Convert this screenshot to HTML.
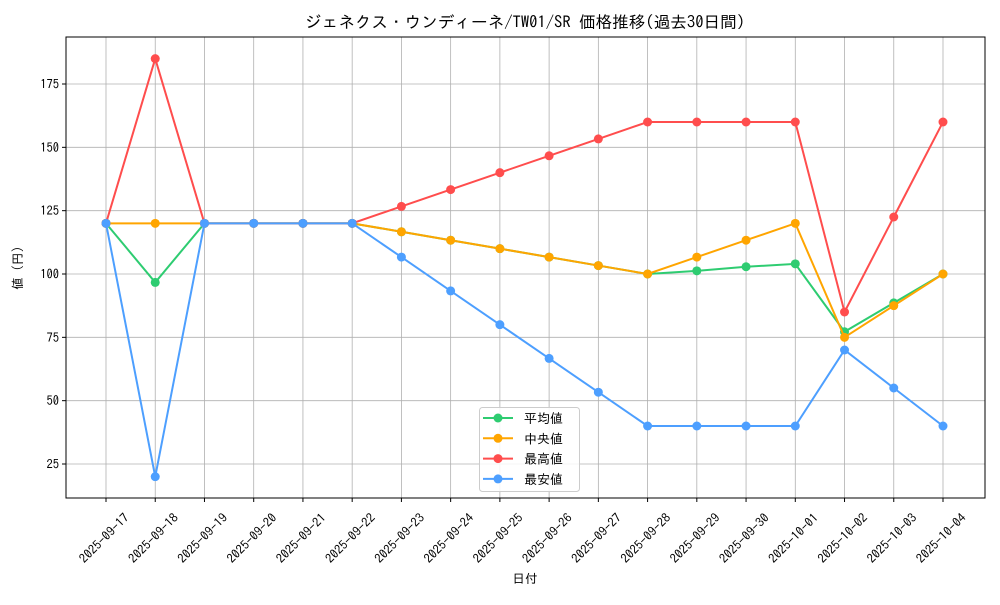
<!DOCTYPE html>
<html><head><meta charset="utf-8"><style>
body{margin:0;background:#fff}
svg text{font-family:"IPAGothic","Noto Sans CJK JP",sans-serif;fill:#000}
</style></head><body>
<svg id="c" width="1000" height="600" xmlns="http://www.w3.org/2000/svg"></svg>
<script>
const s=document.getElementById('c');
const L=66,R=985,T=37,B=498;
const X=i=>106+i*49.235, Y=v=>464-(v-25)*380/150;
let h='<rect width="1000" height="600" fill="#fff"/>';
const dates=['2025-09-17','2025-09-18','2025-09-19','2025-09-20','2025-09-21','2025-09-22','2025-09-23','2025-09-24','2025-09-25','2025-09-26','2025-09-27','2025-09-28','2025-09-29','2025-09-30','2025-10-01','2025-10-02','2025-10-03','2025-10-04'];
dates.forEach((d,i)=>{const x=X(i);h+=`<line x1="${x}" y1="${T}" x2="${x}" y2="${B}" stroke="#b0b0b0" stroke-width="0.8"/><line x1="${x}" y1="${B}" x2="${x}" y2="${B+4}" stroke="#000"/><text transform="translate(${x-2},538) rotate(-45)" text-anchor="middle" dominant-baseline="central" font-size="12.5" textLength="64" lengthAdjust="spacingAndGlyphs">${d}</text>`;});
[25,50,75,100,125,150,175].forEach(v=>{const y=Y(v);h+=`<line x1="${L}" y1="${y}" x2="${R}" y2="${y}" stroke="#b0b0b0" stroke-width="0.8"/><line x1="${L-4}" y1="${y}" x2="${L}" y2="${y}" stroke="#000"/><text x="${L-7}" y="${y+4.5}" text-anchor="end" font-size="12.5">${v}</text>`;});
const S=[
['#2ecc71',[120,96.67,120,120,120,120,116.67,113.33,110,106.67,103.33,100,101.25,102.86,104,77.2,88.6,100]],
['#ffa500',[120,120,120,120,120,120,116.67,113.33,110,106.67,103.33,100,106.67,113.33,120,75,87.5,100]],
['#ff4d4d',[120,185,120,120,120,120,126.67,133.33,140,146.67,153.33,160,160,160,160,85,122.5,160]],
['#4d9fff',[120,20,120,120,120,120,106.67,93.33,80,66.67,53.33,40,40,40,40,70,55,40]]];
S.forEach(([c,d])=>{h+=`<polyline fill="none" stroke="${c}" stroke-width="2" points="${d.map((v,i)=>X(i)+','+Y(v)).join(' ')}"/>`;d.forEach((v,i)=>h+=`<circle cx="${X(i)}" cy="${Y(v)}" r="4.5" fill="${c}"/>`);});
h+=`<rect x="${L}" y="${T}" width="${R-L}" height="${B-T}" fill="none" stroke="#000" stroke-width="1"/>`;
h+=`<rect x="479.5" y="407.5" width="100" height="84" rx="3" fill="#fff" fill-opacity="0.85" stroke="#ccc"/>`;
['平均値','中央値','最高値','最安値'].forEach((t,i)=>{const y=418+i*20.3,c=S[i][0];h+=`<line x1="483" y1="${y}" x2="513" y2="${y}" stroke="${c}" stroke-width="2"/><circle cx="498" cy="${y}" r="4.5" fill="${c}"/><text x="524" y="${y+5}" font-size="13">${t}</text>`;});
h+=`<text x="305" y="28" font-size="16.5" textLength="440" lengthAdjust="spacingAndGlyphs">ジェネクス・ウンディーネ/TW01/SR 価格推移(過去30日間)</text>`;
h+=`<text x="525" y="583" text-anchor="middle" font-size="12.5">日付</text>`;
h+=`<text transform="translate(22,268) rotate(-90)" text-anchor="middle" font-size="12.5">値 (円)</text>`;
s.innerHTML=h;
</script>
</body></html>
